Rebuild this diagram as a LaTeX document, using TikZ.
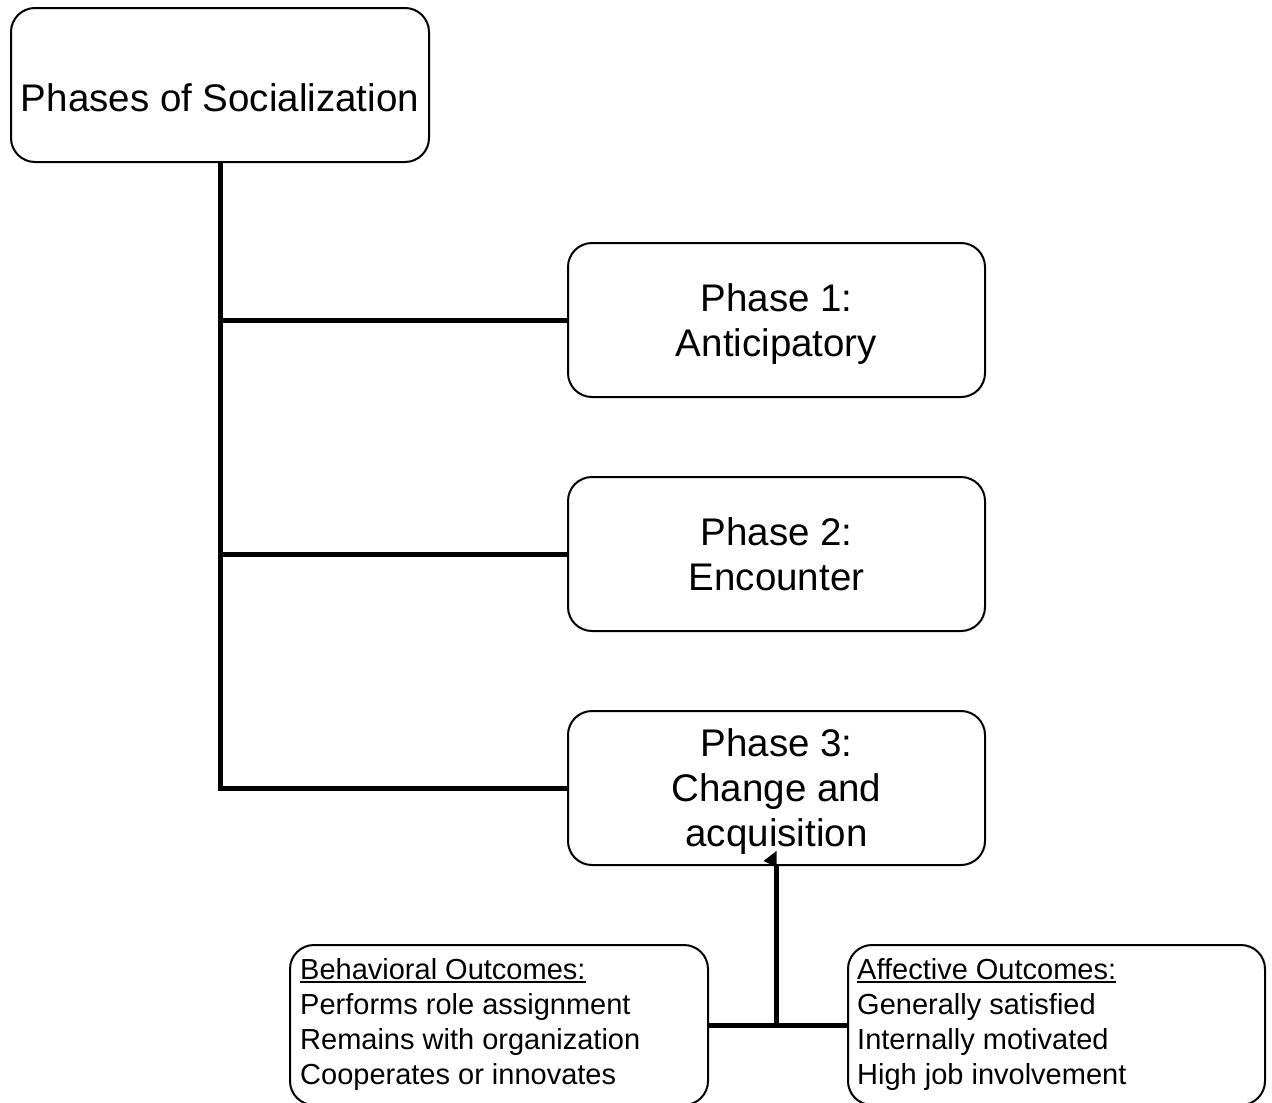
\documentclass[tikz,border=0pt]{standalone}
\usepackage{fontspec}
\setmainfont{Liberation Sans}
% heading with a heavier rule under it
\newcommand\headrule[1]{\setbox0\hbox{#1}\rlap{\rule[-4pt]{\wd0}{2pt}}\box0}
\begin{document}
\begin{tikzpicture}[x=1pt,y=-1pt,
  box/.style={draw, line width=2pt, rounded corners=24pt, fill=white,
              minimum width=417pt, minimum height=154pt, inner sep=0pt},
  link/.style={line width=5pt, line join=miter},
  big/.style={font=\fontsize{38.5}{45}\selectfont, align=center, text depth=0pt},
  small/.style={font=\fontsize{29}{35}\selectfont, align=left,
                anchor=north west, inner sep=0pt}]
\useasboundingbox (0,0) rectangle (1272,1103);
\clip (0,0) rectangle (1272,1103);

% root box
\node[box, minimum width=418pt] (title) at (220,85) {};
\node[big] (titletext) at (220,98) {Phases of Socialization};

% the three phases
\node[box, big] (p1) at (776.5,320) {Phase 1:\\Anticipatory};
\node[box, big] (p2) at (776.5,554) {Phase 2:\\Encounter};
\node[box, big] (p3) at (776.5,788) {Phase 3:\\Change and\\acquisition};

% outcome boxes
\node[box, minimum width=418pt, minimum height=160pt] (beh) at (499,1025) {};
\node[box, minimum width=417pt, minimum height=160pt] (aff) at (1056.5,1025) {};
\node[small] (behtext) at (300,958) {\headrule{Behavioral Outcomes:}\\Performs role assignment\\Remains with organization\\Cooperates or innovates};
\node[small] (afftext) at (857,958) {\headrule{Affective Outcomes:}\\Generally satisfied\\Internally motivated\\High job involvement};

% trunk and branches
\draw[link] (title.south) -- (title.south |- p3.west) -- (p3.west);
\draw[link] (title.south |- p1.west) -- (p1.west);
\draw[link] (title.south |- p2.west) -- (p2.west);

% outcomes feeding into phase 3
\draw[link] (beh.east) -- (aff.west);
\draw[link] (p3.south |- beh.east) -- (p3.south);
\fill (p3.south) ++(0,-15) -- ++(-13,10) -- ++(13,6) -- cycle;
\end{tikzpicture}
\end{document}
